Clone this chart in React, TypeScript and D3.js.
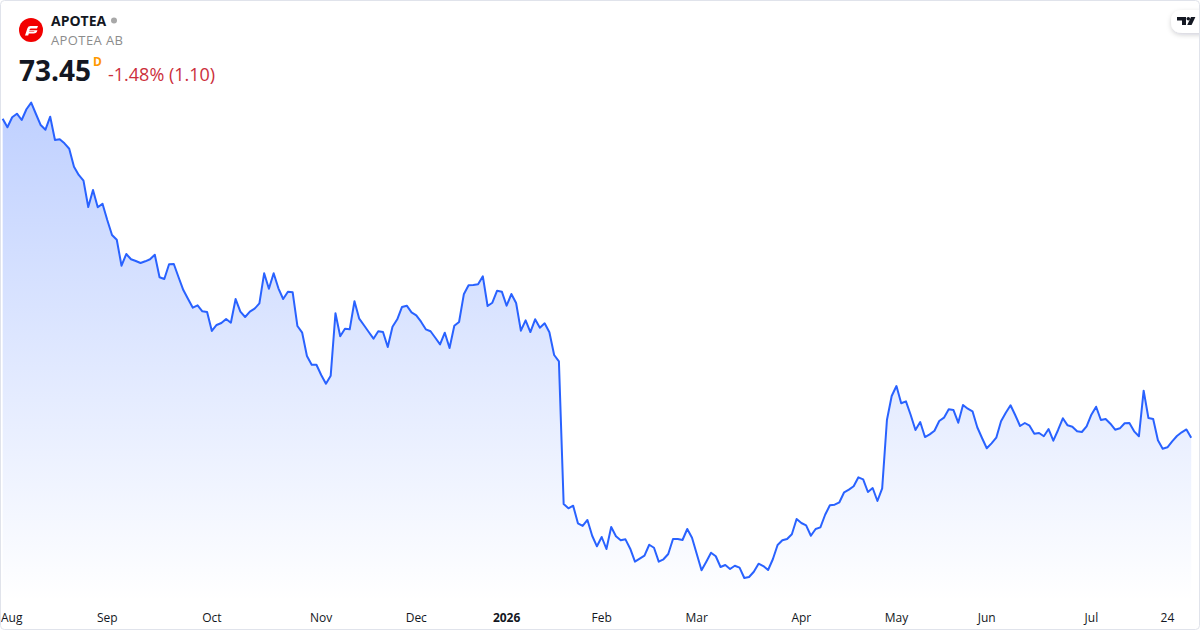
import React from 'react';
import * as d3 from 'd3';

const WIDTH = 1200;
const HEIGHT = 630;

// closing prices, one per trading day
const closes: number[] = [
  115.98, 114.84, 116.17, 116.65, 115.81, 117.24, 118.12, 116.61, 115.14, 114.52,
  116.25, 113.14, 113.24, 112.70, 111.98, 109.58, 108.48, 107.72, 104.21, 106.48,
  104.17, 104.65, 102.48, 100.48, 99.85, 96.38, 97.94, 97.24, 97.01, 96.74,
  96.97, 97.24, 97.85, 94.84, 94.61, 96.57, 96.61, 94.84, 93.14, 91.94,
  90.78, 91.10, 90.30, 90.21, 87.68, 88.48, 88.74, 89.28, 88.78, 91.94,
  90.25, 89.54, 90.25, 90.65, 91.37, 95.37, 93.32, 95.37, 93.37, 91.94,
  92.92, 92.84, 88.34, 87.45, 84.34, 83.18, 83.18, 81.81, 80.65, 81.72,
  90.04, 86.97, 87.98, 87.90, 91.64, 89.32, 88.44, 87.54, 86.65, 87.64,
  87.54, 85.54, 88.25, 89.24, 90.88, 91.05, 90.17, 89.77, 88.92, 87.90,
  87.64, 86.78, 85.90, 87.45, 85.41, 88.38, 88.88, 92.57, 93.77, 93.81,
  93.90, 94.97, 91.01, 91.45, 93.05, 92.92, 91.05, 92.61, 91.41, 87.72,
  89.10, 87.54, 89.24, 88.12, 88.70, 87.50, 84.48, 83.64, 64.61, 64.04,
  64.38, 62.04, 61.68, 62.48, 60.38, 58.97, 60.21, 58.61, 61.54, 60.30,
  59.77, 59.90, 58.65, 56.92, 57.32, 57.72, 59.18, 58.78, 56.92, 57.24,
  57.94, 59.94, 59.94, 59.81, 61.28, 60.12, 57.94, 55.77, 56.92, 58.12,
  57.64, 56.21, 56.48, 55.94, 56.38, 56.12, 54.74, 54.88, 55.58, 56.65,
  56.34, 55.81, 57.24, 59.14, 59.77, 59.94, 60.57, 62.61, 62.08, 61.77,
  60.38, 61.28, 61.50, 63.18, 64.44, 64.52, 64.84, 66.17, 66.52, 66.97,
  68.17, 67.90, 66.21, 66.74, 65.01, 66.70, 75.81, 79.01, 80.34, 78.04,
  78.30, 76.48, 74.48, 75.54, 73.54, 73.90, 74.38, 75.68, 76.12, 77.24,
  77.14, 75.45, 77.81, 77.32, 76.97, 74.84, 73.41, 72.04, 72.70, 73.45,
  75.64, 76.78, 77.77, 76.44, 75.01, 75.41, 75.05, 73.98, 74.08, 73.64,
  74.61, 73.05, 74.48, 76.04, 75.10, 74.92, 74.30, 74.21, 74.97, 76.52,
  77.58, 75.81, 75.94, 75.32, 74.52, 74.70, 75.37, 75.41, 74.30, 73.64,
  79.72, 76.08, 75.94, 73.10, 71.98, 72.17, 72.97, 73.68, 74.17, 74.55,
  73.45,
];

const tickLabels = ['Aug', 'Sep', 'Oct', 'Nov', 'Dec', '2026', 'Feb', 'Mar', 'Apr', 'May', 'Jun', 'Jul', '24'];
const tickIndexes = [0, 22, 44, 67, 87, 106, 126, 146, 168, 188, 207, 229, 245];

const symbol = 'APOTEA';
const companyName = 'APOTEA AB';
const lastPrice = '73.45';
const priceChange = '-1.48% (1.10)';

const x = d3.scaleLinear().domain([0, closes.length - 1]).range([2.67, 1191.2]);
const y = d3.scaleLinear().domain([50, 125]).range([613.58, 51.08]);

const line = d3.line<number>().x((_, i) => x(i)).y(d => y(d));
const area = d3.area<number>().x((_, i) => x(i)).y0(601).y1(d => y(d));

const font = '"Open Sans", sans-serif';

const App: React.FC = () => (
  <svg
    width={WIDTH}
    height={HEIGHT}
    viewBox={`0 0 ${WIDTH} ${HEIGHT}`}
    style={{ position: 'fixed', left: 0, top: 0, display: 'block', background: '#fff', fontFamily: font }}
  >
    <defs>
      <linearGradient id="areaFill" gradientUnits="userSpaceOnUse" x1="0" y1={y(d3.max(closes)!)} x2="0" y2={601}>
        <stop offset="0" stopColor="#2962FF" stopOpacity={0.3} />
        <stop offset="1" stopColor="#2962FF" stopOpacity={0} />
      </linearGradient>
      <filter id="logoShadow" x="-30%" y="-40%" width="160%" height="200%">
        <feDropShadow dx="0" dy="2" stdDeviation="2.5" floodColor="#131722" floodOpacity={0.18} />
      </filter>
    </defs>

    <path d={area(closes)!} fill="url(#areaFill)" />
    <path d={line(closes)!} fill="none" stroke="#2962FF" strokeWidth={2} strokeLinejoin="round" />

    {tickLabels.map((label, i) => (
      <text
        key={label}
        x={i === 0 ? 1 : x(tickIndexes[i])}
        y={622}
        textAnchor={i === 0 ? 'start' : 'middle'}
        fontSize={12}
        fontWeight={label === '2026' ? 700 : 400}
        fill="#131722"
      >
        {label}
      </text>
    ))}

    {/* header */}
    <circle cx={31} cy={30} r={12} fill="#f20000" />
    <path d="M25 35.5 L27.5 28 Q28.2 26 30.5 26 L38 26 L37 28.4 L31 28.4 Q29.9 28.4 29.6 29.4 L29.3 30.2 L37.4 30.2 Q36.8 33.5 33.5 33.5 L28.8 33.5 L28.2 35.5 Z M29 32 L33 32 Q34.2 32 34.6 31.4 L29.2 31.4 Z" fill="#fff" fillRule="evenodd" />
    <text x={51} y={26} fontSize={14} fontWeight={700} fill="#131722">{symbol}</text>
    <circle cx={114} cy={20.5} r={3} fill="#a8a8a8" />
    <text x={51} y={45} fontSize={13} fill="#8c8c8c" letterSpacing={0.4}>{companyName}</text>
    <text x={19} y={81} fontSize={28} fontWeight={700} fill="#131722">{lastPrice}</text>
    <text x={93} y={66} fontSize={12} fontWeight={700} fill="#ff9800">D</text>
    <text x={108} y={81} fontSize={18} fill="#cc2f3c">{priceChange}</text>

    {/* attribution badge */}
    <path d="M1216 10 L1183 10 Q1171 10 1171 21.5 Q1171 33 1183 33 L1216 33 Z" fill="#fff" filter="url(#logoShadow)" />
    <path d="M1177 17 L1186 17 L1186 25 L1182 25 L1182 20.6 L1177 20.6 Z" fill="#131722" />
    <circle cx={1188.3} cy={18.8} r={1.8} fill="#131722" />
    <path d="M1191 17 L1195.4 17 L1191.6 25 L1187.2 25 Z" fill="#131722" />

    <rect x={0.5} y={0.5} width={WIDTH - 1} height={HEIGHT - 1} rx={4} fill="none" stroke="#e0e3eb" />
  </svg>
);

export default App;
